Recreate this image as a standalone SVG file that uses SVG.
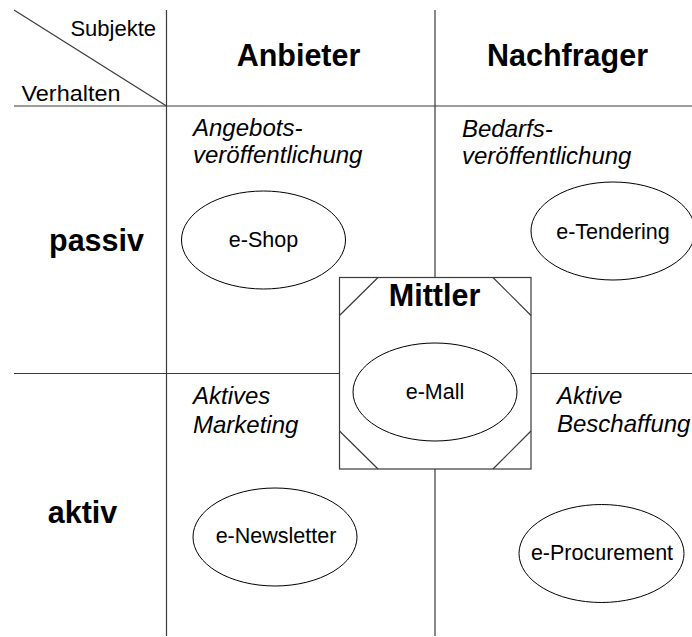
<svg xmlns="http://www.w3.org/2000/svg" width="692" height="637" viewBox="0 0 692 637">
  <style>
    .grid { stroke: #3a3a3a; stroke-width: 1.2; fill: none; }
    .node ellipse { fill: #ffffff; stroke: #000000; stroke-width: 1; }
    .node text { font-family: "Liberation Sans", Arial, sans-serif; font-size: 21.5px; fill: #000000; text-anchor: middle; }
    .head { font-family: "Liberation Sans", Arial, sans-serif; font-weight: bold; font-size: 30.5px; fill: #000000; text-anchor: middle; }
    .axis { font-family: "Liberation Sans", Arial, sans-serif; font-size: 22px; fill: #000000; }
    .cat { font-family: "Liberation Sans", Arial, sans-serif; font-style: italic; font-size: 24px; fill: #000000; }
  </style>

  <rect x="0" y="0" width="692" height="637" fill="#ffffff"/>

  <!-- matrix grid lines -->
  <g id="connectors" class="grid">
    <line x1="14" y1="10" x2="166.5" y2="106"/>
    <line x1="166.5" y1="10" x2="166.5" y2="636"/>
    <line x1="435" y1="10" x2="435" y2="277.5"/>
    <line x1="435" y1="469" x2="435" y2="636"/>
    <line x1="14" y1="106" x2="692" y2="106"/>
    <line x1="14" y1="373.5" x2="339.5" y2="373.5"/>
    <line x1="531" y1="373.5" x2="692" y2="373.5"/>
  </g>

  <!-- header labels -->
  <g id="header">
    <text class="axis" x="156" y="36" text-anchor="end">Subjekte</text>
    <text class="axis" x="21.5" y="101" textLength="99" lengthAdjust="spacingAndGlyphs">Verhalten</text>
    <text class="head" x="298.5" y="66">Anbieter</text>
    <text class="head" x="567.5" y="66">Nachfrager</text>
    <text class="head" x="96.5" y="251">passiv</text>
    <text class="head" x="82.5" y="523">aktiv</text>
  </g>

  <!-- quadrant categories -->
  <g id="categories">
    <text class="cat" x="193" y="136">Angebots-</text>
    <text class="cat" x="193" y="163">veröffentlichung</text>
    <text class="cat" x="462" y="137">Bedarfs-</text>
    <text class="cat" x="462" y="163.5">veröffentlichung</text>
    <text class="cat" x="193" y="403.5">Aktives</text>
    <text class="cat" x="193" y="432.5">Marketing</text>
    <text class="cat" x="557" y="403.5">Aktive</text>
    <text class="cat" x="557" y="432">Beschaffung</text>
  </g>

  <!-- intermediary box -->
  <g id="mittler">
    <rect class="grid" x="339.5" y="277.5" width="191.5" height="191.5" fill="#ffffff"/>
    <line class="grid" x1="339.5" y1="315.5" x2="378" y2="277.5"/>
    <line class="grid" x1="493" y1="277.5" x2="531" y2="315.5"/>
    <line class="grid" x1="339.5" y1="431" x2="378" y2="469"/>
    <line class="grid" x1="493" y1="469" x2="531" y2="431"/>
    <text class="head" x="434.5" y="306">Mittler</text>
  </g>

  <g id="e-mall" class="node">
    <ellipse cx="435" cy="392" rx="82" ry="49"/>
    <text x="435" y="398.5">e-Mall</text>
  </g>

  <g id="e-shop" class="node">
    <ellipse cx="263.5" cy="240" rx="82" ry="49"/>
    <text x="263.5" y="247">e-Shop</text>
  </g>

  <g id="e-tendering" class="node">
    <ellipse cx="613" cy="231" rx="82" ry="49"/>
    <text x="613" y="238.5">e-Tendering</text>
  </g>

  <g id="e-newsletter" class="node">
    <ellipse cx="275" cy="537" rx="82" ry="49"/>
    <text x="276" y="543">e-Newsletter</text>
  </g>

  <g id="e-procurement" class="node">
    <ellipse cx="601.5" cy="553.5" rx="82.5" ry="49"/>
    <text x="602" y="560">e-Procurement</text>
  </g>
</svg>
